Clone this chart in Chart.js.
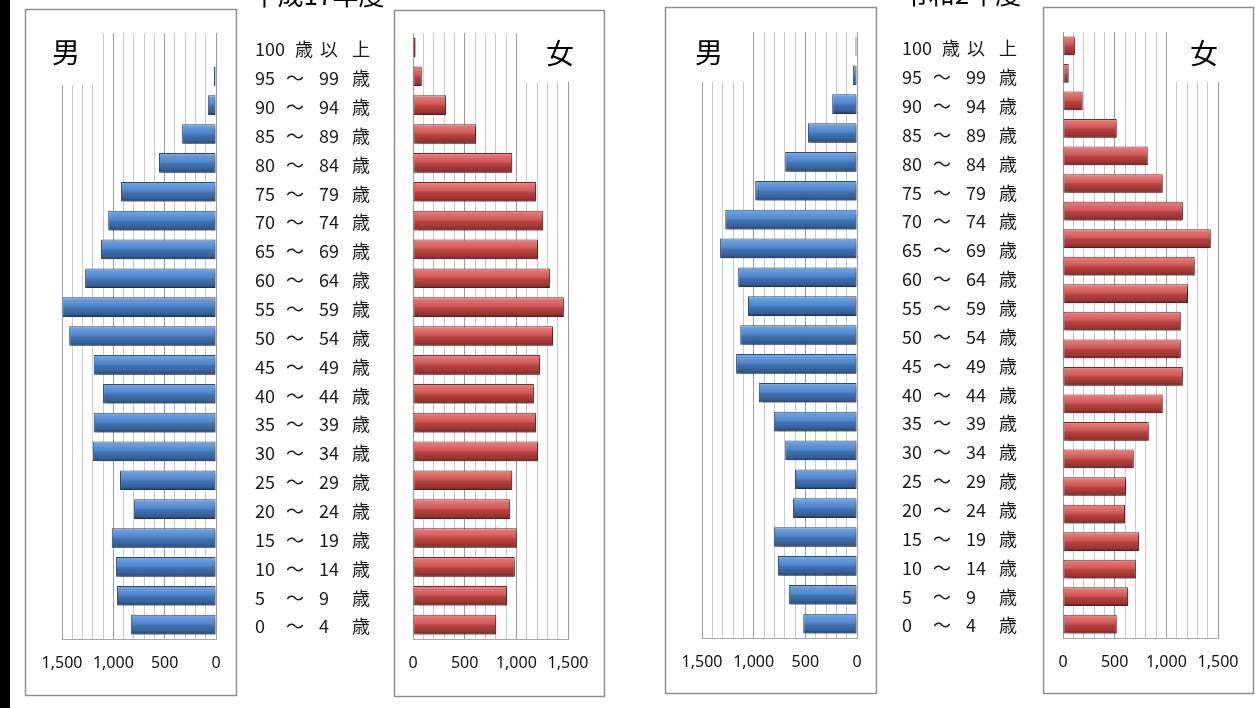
<!DOCTYPE html>
<html>
<head>
<meta charset="utf-8">
<script src="https://cdn.jsdelivr.net/npm/chart.js@4.4.0/dist/chart.umd.min.js"></script>
<style>
html,body{margin:0;padding:0;background:#fff;width:1255px;height:708px;overflow:hidden;}
#wrap{position:relative;width:1255px;height:708px;}
#blackbar{position:absolute;left:0;top:0;width:10px;height:708px;background:#000;}
canvas{position:absolute;left:0;top:0;}
</style>
</head>
<body>
<div id="wrap">
<div id="blackbar"></div>
<canvas id="cMH" width="1255" height="708"></canvas>
<canvas id="cFH" width="1255" height="708"></canvas>
<canvas id="cMR" width="1255" height="708"></canvas>
<canvas id="cFR" width="1255" height="708"></canvas>
</div>
<script>
// ---- data ----
const categories = ['100歳以上','95～99歳','90～94歳','85～89歳','80～84歳','75～79歳','70～74歳','65～69歳','60～64歳','55～59歳','50～54歳','45～49歳','40～44歳','35～39歳','30～34歳','25～29歳','20～24歳','15～19歳','10～14歳','5～9歳','0～4歳'];
// the 令和2年度 female series in the picture carries one extra (unlabelled) row at the top
const categoriesFR = [''].concat(categories);
const titleLeft = '平成17年度';
const titleRight = '令和2年度';
const maleLabel = '男';
const femaleLabel = '女';
const maleH   = [5, 20, 80, 330, 555, 925, 1050, 1120, 1275, 1495, 1430, 1190, 1100, 1190, 1200, 935, 800, 1015, 975, 965, 830];
const femaleH = [25, 85, 320, 610, 960, 1190, 1260, 1210, 1325, 1460, 1355, 1230, 1170, 1190, 1210, 960, 940, 1005, 985, 910, 805];
const maleR   = [15, 40, 240, 475, 695, 985, 1275, 1325, 1150, 1055, 1130, 1170, 950, 805, 695, 600, 620, 805, 765, 660, 520];
const femaleR = [115, 55, 190, 520, 820, 965, 1160, 1430, 1275, 1210, 1140, 1140, 1160, 965, 830, 685, 610, 600, 735, 705, 630, 520];
const axisMax = 1500;
const axisStep = 100;
const labelStep = 500;

// ---- styles ----
const W = 1255, H = 708;
const BAR_PCT = 0.68;
const TICK_FONT = {family: '"Noto Sans", sans-serif', size: 16};
const TICK_PAD = 15;
const AXIS_H = 2 * TICK_PAD + TICK_FONT.size * 1.2;
const JP = '"Noto Sans CJK JP", sans-serif';
const blueStops = [[0,'#9cc1ec'],[0.1,'#6b9fe0'],[0.45,'#5087ca'],[0.55,'#4173b3'],[0.85,'#335f98'],[1,'#1d3a62']];
const redStops  = [[0,'#f7a9a7'],[0.1,'#e67875'],[0.45,'#cf5855'],[0.55,'#b8423f'],[0.85,'#9a3431'],[1,'#6e2220']];

function bevelFill(stops) {
  return function(ctx) {
    const chart = ctx.chart;
    const ys = chart.scales && chart.scales.y;
    if (ctx.type !== 'data' || !ys) return stops[2][1];
    const c = ys.getPixelForValue(ctx.dataIndex);
    const h = Math.abs(ys.getPixelForValue(1) - ys.getPixelForValue(0)) * BAR_PCT;
    if (!isFinite(c) || !isFinite(h) || h <= 0) return stops[2][1];
    const g = chart.ctx.createLinearGradient(0, c - h / 2, 0, c + h / 2);
    stops.forEach(s => g.addColorStop(s[0], s[1]));
    return g;
  };
}

const shadowPlugin = {
  id: 'shadow',
  beforeDatasetsDraw(chart) {
    const c = chart.ctx;
    c.save();
    c.shadowColor = 'rgba(0,0,0,0.38)';
    c.shadowBlur = 4;
    c.shadowOffsetX = 2;
    c.shadowOffsetY = 3;
  },
  afterDatasetsDraw(chart) { chart.ctx.restore(); }
};

function makeDeco(cfg) {
  return {
    id: 'deco',
    beforeDatasetsDraw(chart) {
      const c = chart.ctx;
      c.save();
      c.shadowColor = 'rgba(0,0,0,0)';
      c.fillStyle = '#fff';
      c.fillRect(cfg.cover[0], cfg.cover[1], cfg.cover[2], cfg.cover[3]);
      c.fillStyle = '#000';
      c.font = '28px ' + JP;
      c.textAlign = 'center';
      c.textBaseline = 'middle';
      c.fillText(cfg.sex, cfg.sexPos[0], cfg.sexPos[1]);
      c.restore();
    },
    afterDraw(chart) {
      const c = chart.ctx;
      c.save();
      c.strokeStyle = '#8f8f8f';
      c.lineWidth = 1.5;
      c.strokeRect(cfg.box[0], cfg.box[1], cfg.box[2], cfg.box[3]);
      if (cfg.ages) {
        const ys = chart.scales.y;
        const b = cfg.ages.base;
        c.fillStyle = '#1a1a1a';
        c.font = '18px ' + JP;
        c.textBaseline = 'middle';
        categories.forEach((lab, i) => {
          const y = ys.getPixelForValue(i) + cfg.ages.dy;
          let m = lab.match(/^(\d+)～(\d+)歳$/);
          if (m) {
            c.textAlign = 'left';
            c.fillText(m[1], b, y);
            c.textAlign = 'center';
            c.fillText('～', b + 40, y);
            c.textAlign = 'left';
            c.fillText(m[2], b + 64, y);
            c.textAlign = 'center';
            c.fillText('歳', b + 106, y);
          } else {
            m = lab.match(/^(\d+)歳以上$/);
            c.textAlign = 'left';
            c.fillText(m[1], b, y);
            c.textAlign = 'center';
            c.fillText('歳', b + 49, y);
            c.fillText('以', b + 74, y);
            c.fillText('上', b + 106, y);
          }
        });
      }
      if (cfg.title) {
        c.fillStyle = '#000';
        c.font = '26px ' + JP;
        c.textAlign = 'center';
        c.textBaseline = 'alphabetic';
        c.fillText(cfg.title.text, cfg.title.x, cfg.title.y);
      }
      c.restore();
    }
  };
}

function makeChart(id, labels, values, male, area, deco) {
  const stops = male ? blueStops : redStops;
  return new Chart(document.getElementById(id), {
    type: 'bar',
    data: {
      labels: labels,
      datasets: [{
        data: values,
        backgroundColor: bevelFill(stops),
        borderColor: male ? '#2a4d7c' : '#7e2a28',
        borderWidth: 1,
        borderSkipped: false,
        categoryPercentage: 1,
        barPercentage: BAR_PCT
      }]
    },
    options: {
      indexAxis: 'y',
      responsive: false,
      animation: false,
      events: [],
      layout: {
        padding: {left: area.l, right: W - area.r, top: area.t, bottom: H - area.b - AXIS_H}
      },
      plugins: {legend: {display: false}, tooltip: {enabled: false}, title: {display: false}},
      scales: {
        y: {display: false},
        x: {
          min: 0, max: axisMax, reverse: male,
          grid: {
            drawTicks: false,
            color: (ctx) => (ctx.tick && ctx.tick.value % labelStep === 0) ? '#9c9c9c' : '#cbcbcb',
            lineWidth: 1
          },
          border: {display: true, color: '#a8a8a8', width: 1},
          ticks: {
            stepSize: axisStep, autoSkip: false, maxRotation: 0, padding: TICK_PAD,
            color: '#111', font: TICK_FONT,
            callback: (v) => (v % labelStep === 0) ? v.toLocaleString('en-US') : ''
          }
        }
      }
    },
    plugins: [makeDeco(deco), shadowPlugin]
  });
}

makeChart('cMH', categories, maleH, true, {l: 62, r: 216, t: 33, b: 639}, {
  cover: [35, 28, 64, 57], sex: maleLabel, sexPos: [66, 52],
  box: [25.5, 9.5, 211, 686], ages: {base: 255, dy: 2},
  title: {text: titleLeft, x: 318, y: 5}
});
makeChart('cFH', categories, femaleH, false, {l: 413, r: 568, t: 33, b: 639}, {
  cover: [521, 28, 66, 54], sex: femaleLabel, sexPos: [560, 53],
  box: [394.5, 10.5, 210, 686]
});
makeChart('cMR', categories, maleR, true, {l: 702, r: 857, t: 32, b: 638}, {
  cover: [680, 27, 70, 55], sex: maleLabel, sexPos: [709, 52],
  box: [665.5, 7.5, 211, 686], ages: {base: 902, dy: 2},
  title: {text: titleRight, x: 962, y: 4}
});
makeChart('cFR', categoriesFR, femaleR, false, {l: 1063, r: 1218, t: 32, b: 638}, {
  cover: [1172, 27, 66, 55], sex: femaleLabel, sexPos: [1204, 53],
  box: [1043.5, 7.5, 210, 686]
});
</script>
</body>
</html>
